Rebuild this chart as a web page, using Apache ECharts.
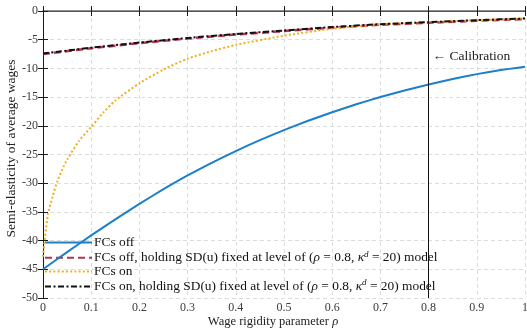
<!DOCTYPE html>
<html>
<head>
<meta charset="utf-8">
<script src="https://cdn.jsdelivr.net/npm/echarts@6/dist/echarts.min.js"></script>
<style>
  html, body { margin: 0; padding: 0; background: #fff; }
  #chart { width: 527px; height: 332px; }
</style>
</head>
<body>
<div id="chart"></div>
<script>
// Wage rigidity parameter values for each curve
const rhoOff = [0, 0.05, 0.1, 0.15, 0.2, 0.25, 0.3, 0.35, 0.4, 0.45, 0.5, 0.55, 0.6, 0.65, 0.7, 0.75, 0.8, 0.85, 0.9, 0.95, 1.0];
const fcsOff = [-45.0, -42.0, -39.1, -36.3, -33.6, -31.05, -28.65, -26.45, -24.4, -22.5, -20.75, -19.13, -17.63, -16.25, -14.99, -13.85, -12.8, -11.85, -11.0, -10.28, -9.7];

const rhoOn = [0, 0.01, 0.02, 0.03, 0.04, 0.05, 0.075, 0.1, 0.125, 0.15, 0.2, 0.25, 0.3, 0.35, 0.4, 0.5, 0.6, 0.7, 0.8, 0.9, 1.0];
const fcsOn = [-42.8, -35.5, -32.3, -29.6, -27.6, -25.9, -22.6, -20.2, -17.7, -15.6, -12.6, -10.2, -8.3, -7.0, -5.9, -4.3, -3.1, -2.3, -1.95, -1.6, -1.3];

const rhoHeld = [0, 0.1, 0.2, 0.3, 0.4, 0.5, 0.6, 0.7, 0.8, 0.9, 1.0];
const fcsOffHeld = [-7.5, -6.5, -5.6, -4.8, -4.1, -3.5, -2.9, -2.4, -2.05, -1.7, -1.4];
const fcsOnHeld = [-7.4, -6.4, -5.5, -4.7, -4.0, -3.4, -2.8, -2.3, -1.95, -1.6, -1.3];

const xTicks = [0, 0.1, 0.2, 0.3, 0.4, 0.5, 0.6, 0.7, 0.8, 0.9, 1];
const yTicks = [-50, -45, -40, -35, -30, -25, -20, -15, -10, -5, 0];
const calibrationRho = 0.8;

const seriesNames = [
  'FCs off',
  'FCs off, holding SD(u) fixed at level of ({i|ρ} = 0.8, {i|κ}{sup|d} = 20) model',
  'FCs on',
  'FCs on, holding SD(u) fixed at level of ({i|ρ} = 0.8, {i|κ}{sup|d} = 20) model'
];

const pairs = (xs, ys) => xs.map((x, i) => [x, ys[i]]);

const FONT = '"Liberation Serif", "DejaVu Serif", serif';
const AXIS_COLOR = '#1a1a1a';
const LABEL_COLOR = '#3a3a3a';
const LEGEND_SIZE = 13.4;

const chart = echarts.init(document.getElementById('chart'), null, { renderer: 'canvas' });

const xBase = {
  type: 'value',
  min: xTicks[0],
  max: xTicks[xTicks.length - 1],
  interval: 0.1
};
const yBase = {
  type: 'value',
  min: yTicks[0],
  max: yTicks[yTicks.length - 1],
  interval: 5
};

chart.setOption({
  animation: false,
  backgroundColor: '#fff',
  textStyle: { fontFamily: FONT },
  grid: { left: 43, right: 2, top: 11, bottom: 34, containLabel: false, outerBoundsMode: 'none' },
  xAxis: [
    Object.assign({}, xBase, {
      position: 'bottom',
      name: 'Wage rigidity parameter {i|ρ}',
      nameLocation: 'middle',
      nameGap: 17,
      nameMoveOverlap: false,
      nameTextStyle: {
        fontFamily: FONT, fontSize: 12.5, color: '#222', padding: [0, 22, 0, 0],
        rich: { i: { fontFamily: FONT, fontSize: 12.5, fontStyle: 'italic', color: '#222' } }
      },
      axisLine: { show: true, lineStyle: { color: AXIS_COLOR, width: 1 } },
      axisTick: { show: true, inside: true, length: 5, lineStyle: { color: AXIS_COLOR } },
      axisLabel: {
        fontFamily: FONT, fontSize: 12, color: LABEL_COLOR, margin: 4,
        formatter: v => String(Math.round(v * 10) / 10)
      },
      splitLine: { show: true, lineStyle: { color: '#dcdcdc', type: [4, 3], width: 1 } }
    }),
    Object.assign({}, xBase, {
      position: 'top',
      axisLine: { show: true, lineStyle: { color: '#6a6a6a', width: 1.5 } },
      axisTick: { show: true, inside: true, length: 5, lineStyle: { color: AXIS_COLOR } },
      axisLabel: { show: false },
      splitLine: { show: false }
    })
  ],
  yAxis: [
    Object.assign({}, yBase, {
      position: 'left',
      name: 'Semi-elasticity of average wages',
      nameLocation: 'middle',
      nameGap: 25,
      nameMoveOverlap: false,
      nameTextStyle: { fontFamily: FONT, fontSize: 13.5, color: '#222', padding: [0, 0, 0, 12] },
      axisLine: { show: true, lineStyle: { color: AXIS_COLOR, width: 1 } },
      axisTick: { show: true, inside: true, length: 5, lineStyle: { color: AXIS_COLOR } },
      axisLabel: { fontFamily: FONT, fontSize: 12, color: LABEL_COLOR, margin: 5 },
      splitLine: { show: true, lineStyle: { color: '#dcdcdc', type: [4, 3], width: 1 } }
    }),
    Object.assign({}, yBase, {
      position: 'right',
      axisLine: { show: true, lineStyle: { color: AXIS_COLOR, width: 1 } },
      axisTick: { show: true, inside: true, length: 5, lineStyle: { color: AXIS_COLOR } },
      axisLabel: { show: false },
      splitLine: { show: false }
    })
  ],
  legend: {
    orient: 'vertical',
    left: 44,
    top: 236,
    itemWidth: 47,
    itemHeight: 14,
    itemGap: 0.7,
    padding: 0,
    backgroundColor: 'transparent',
    data: seriesNames,
    itemStyle: { opacity: 0 },
    textStyle: {
      fontFamily: FONT, fontSize: LEGEND_SIZE, color: '#111', padding: [0, 0, 0, -3],
      rich: {
        i: { fontFamily: FONT, fontSize: LEGEND_SIZE, fontStyle: 'italic', color: '#111' },
        sup: { fontFamily: FONT, fontSize: 9, fontStyle: 'italic', color: '#111', verticalAlign: 'top', padding: [0, 0, 7, 0] }
      }
    }
  },
  series: [
    {
      name: seriesNames[0],
      type: 'line',
      data: pairs(rhoOff, fcsOff),
      showSymbol: false,
      symbol: 'none',
      smooth: 0.2,
      z: 4,
      lineStyle: { color: '#1b7fca', width: 2 },
      itemStyle: { color: '#1b7fca' },
      markLine: {
        silent: true,
        symbol: ['none', 'none'],
        label: { show: false },
        lineStyle: { color: '#111', width: 1, type: 'solid' },
        data: [{ xAxis: calibrationRho }]
      },
      markPoint: {
        silent: true,
        symbol: 'circle',
        symbolSize: 0,
        data: [{ coord: [calibrationRho, -8], value: 0 }],
        label: {
          show: true,
          position: 'right',
          distance: 4,
          formatter: '← Calibration',
          fontFamily: FONT,
          fontSize: 13.5,
          color: '#222'
        }
      }
    },
    {
      name: seriesNames[1],
      type: 'line',
      data: pairs(rhoHeld, fcsOffHeld),
      showSymbol: false,
      symbol: 'none',
      smooth: 0.2,
      z: 3,
      lineStyle: { color: '#b5334f', width: 2.5, type: [7, 4] },
      itemStyle: { color: '#b5334f' }
    },
    {
      name: seriesNames[2],
      type: 'line',
      data: pairs(rhoOn, fcsOn),
      showSymbol: false,
      symbol: 'none',
      smooth: 0.2,
      z: 5,
      lineStyle: { color: '#edb120', width: 2, type: [2, 2.2] },
      itemStyle: { color: '#edb120' }
    },
    {
      name: seriesNames[3],
      type: 'line',
      data: pairs(rhoHeld, fcsOnHeld),
      showSymbol: false,
      symbol: 'none',
      smooth: 0.2,
      z: 6,
      lineStyle: { color: '#111111', width: 2, type: [6, 2.5, 2, 2.5] },
      itemStyle: { color: '#111111' }
    }
  ]
});
</script>
</body>
</html>
